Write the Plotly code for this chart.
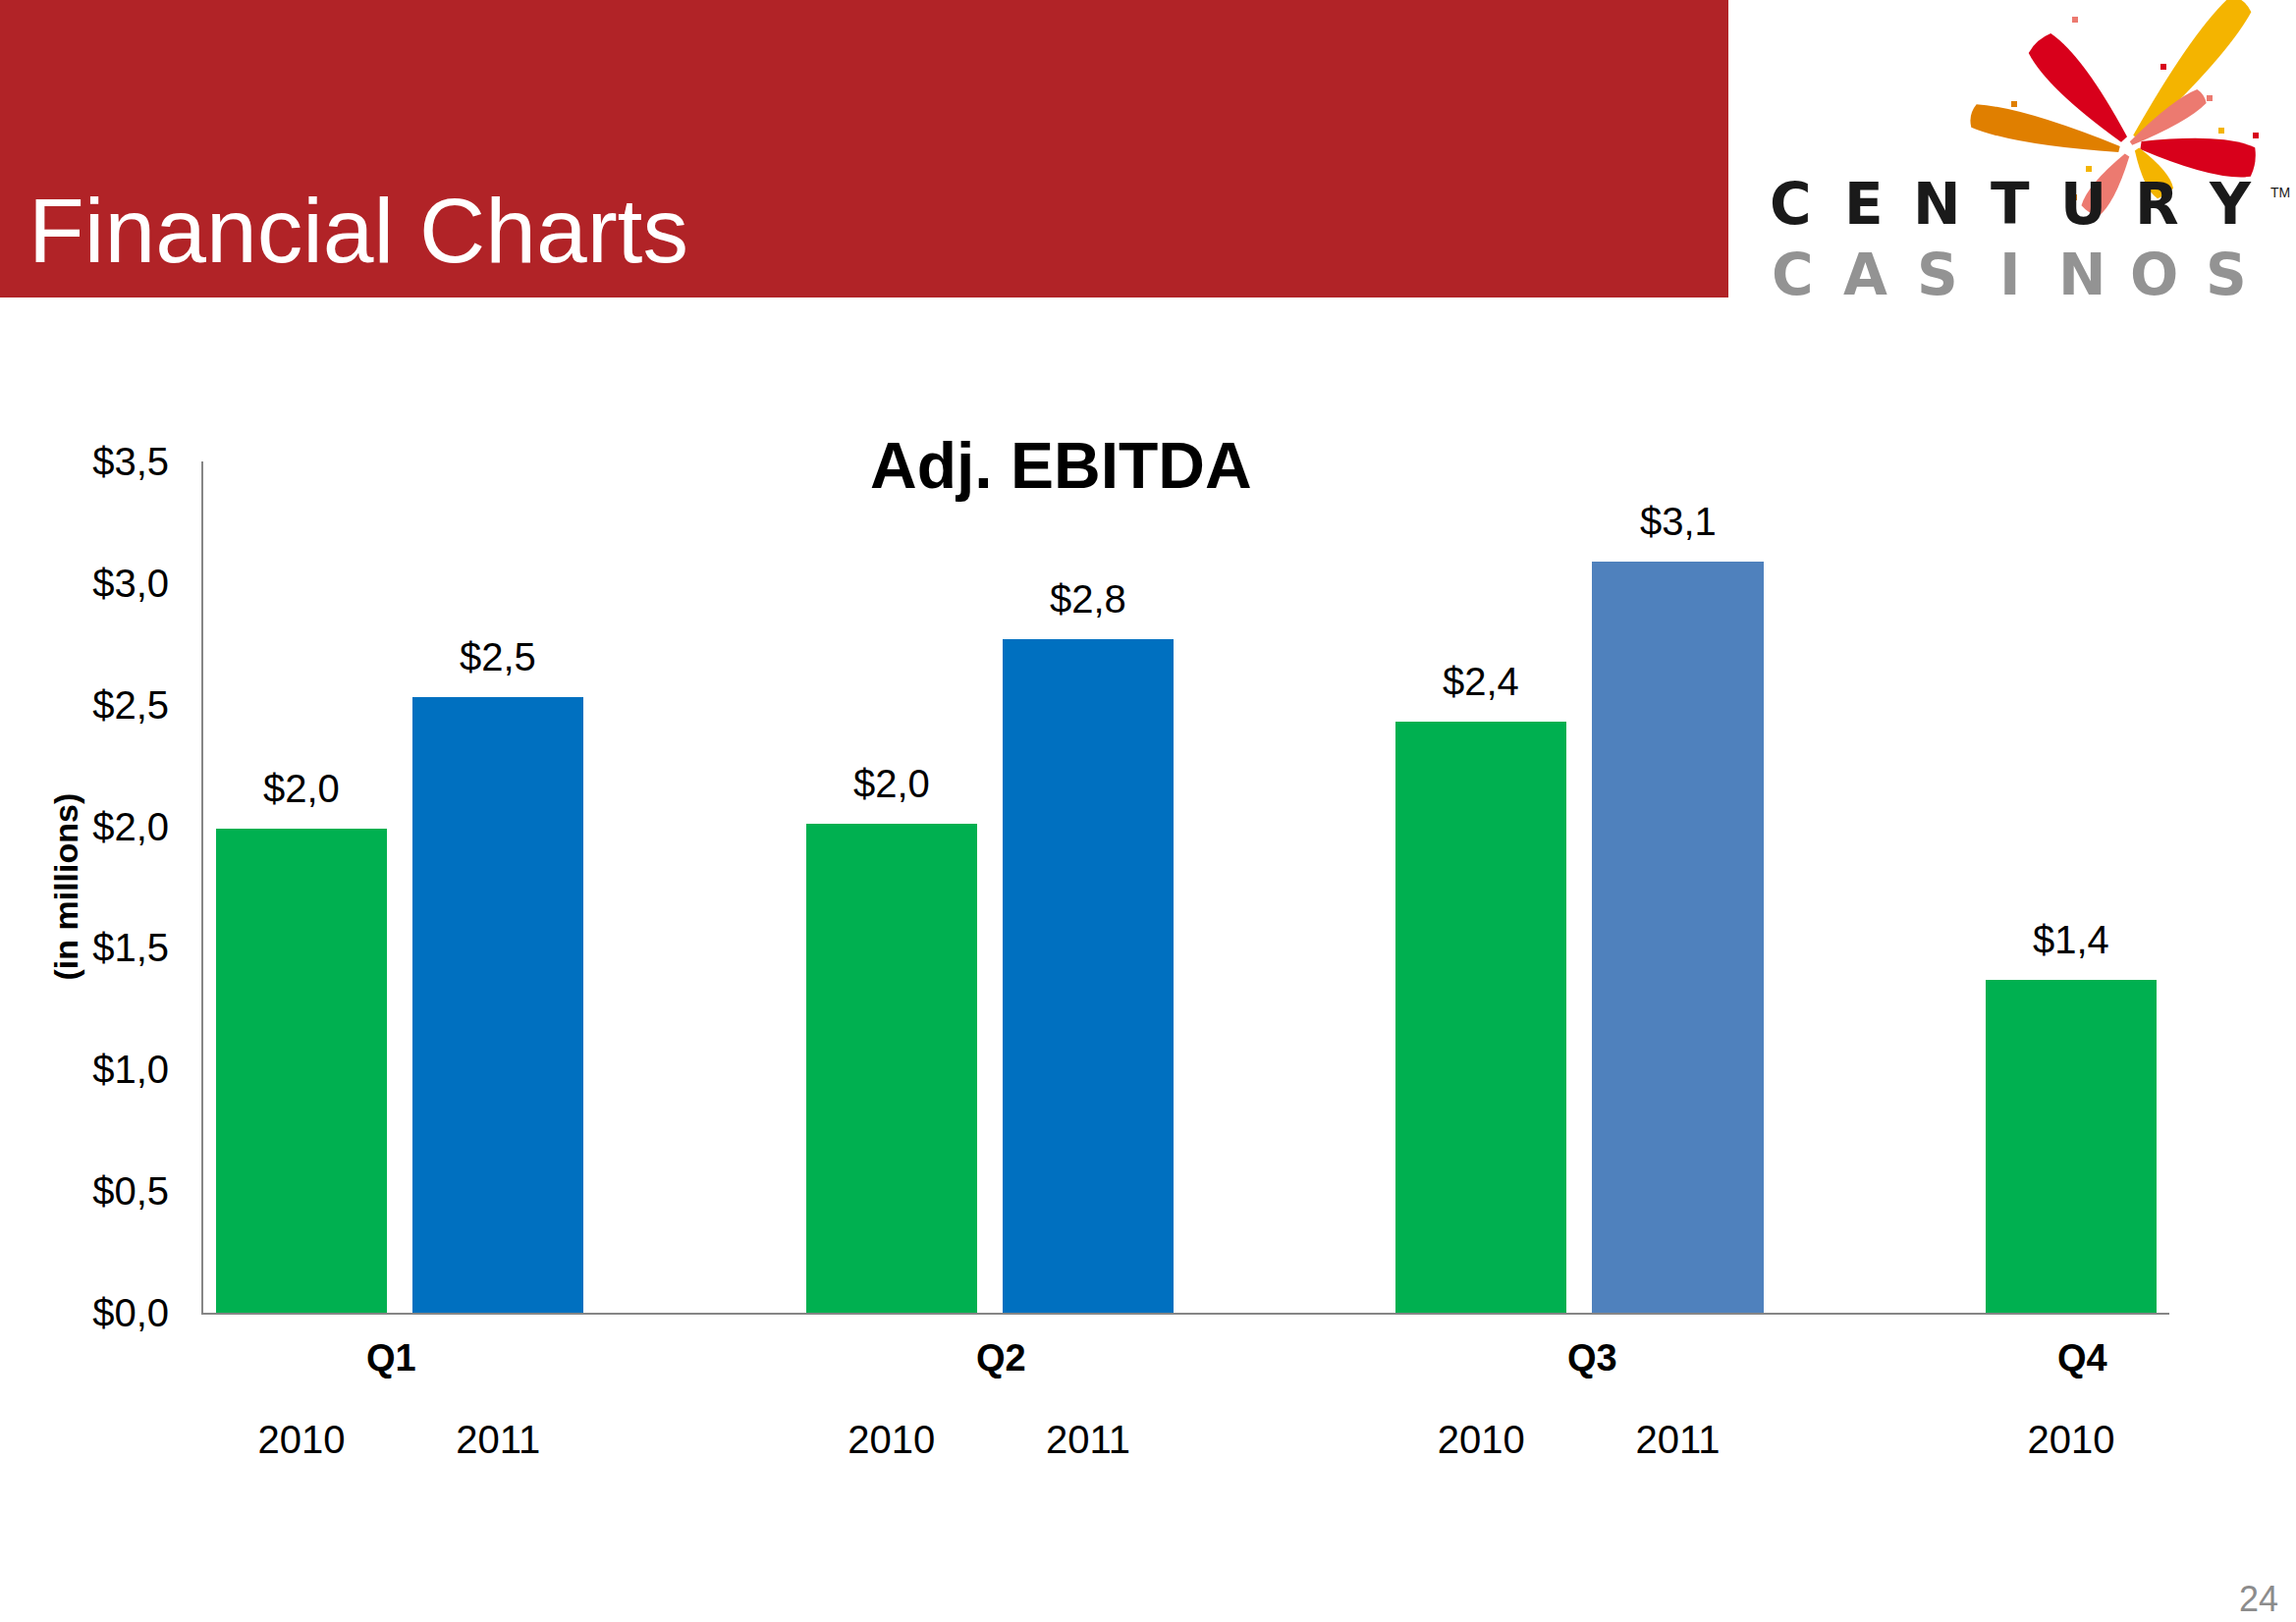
import plotly.graph_objects as go

# ---------------- data ----------------
quarters = ["Q1", "Q2", "Q3", "Q4"]
years = ["2010", "2011"]
ebitda_2010 = [1.99, 2.01, 2.43, 1.37]
ebitda_2011 = [2.53, 2.77, 3.09, None]
y_ticks = [0.0, 0.5, 1.0, 1.5, 2.0, 2.5, 3.0, 3.5]

# ---------------- styles ----------------
GREEN = "#00B050"
BLUE = "#0070C0"
STEEL = "#4F81BD"
AXIS = "#868686"
FONT = "Liberation Sans, Arial, sans-serif"
Q_LABEL_NUDGE = [-9, 12, 13, 12]   # small horizontal nudges of quarter labels (px)

W, H = 2338, 1652
L, R, T, B = 207, 2209, 470, 1337

def px(x):
    return (x - L) / (R - L)

def py(y):
    return (B - y) / (B - T)

# bar slots: each quarter occupies 3 slots (2010, 2011, gap)
xs, vals, cols, labels = [], [], [], []
for qi, q in enumerate(quarters):
    for yi, series in enumerate([ebitda_2010, ebitda_2011]):
        v = series[qi]
        if v is None:
            continue
        xs.append(qi * 3 + yi)
        vals.append(v)
        labels.append(years[yi])
        if yi == 0:
            cols.append(GREEN)
        else:
            cols.append(STEEL if q == "Q3" else BLUE)

fig = go.Figure()
fig.add_trace(go.Bar(
    x=xs, y=vals, width=0.87, marker=dict(color=cols, line=dict(width=0)),
    hoverinfo="skip", showlegend=False,
))

annotations = []
# value labels
for x, v in zip(xs, vals):
    annotations.append(dict(
        x=x, y=v, xref="x", yref="y", text=("$%.1f" % v).replace(".", ","),
        showarrow=False, yanchor="middle", yshift=41,
        font=dict(family=FONT, size=40, color="#000000"),
    ))
# quarter labels
for qi, q in enumerate(quarters):
    slots = [x for x in xs if x // 3 == qi]
    annotations.append(dict(
        x=sum(slots) / len(slots), y=0, xref="x", yref="y", text="<b>%s</b>" % q,
        showarrow=False, yanchor="middle", yshift=-46, xshift=Q_LABEL_NUDGE[qi],
        font=dict(family=FONT, size=38, color="#000000"),
    ))
# chart title
annotations.append(dict(
    x=px(1080), y=py(474), xref="paper", yref="paper", text="<b>Adj. EBITDA</b>",
    showarrow=False, xanchor="center", yanchor="middle",
    font=dict(family=FONT, size=66, color="#000000"),
))
# y axis title
annotations.append(dict(
    x=px(66), y=0.5, xref="paper", yref="paper", text="<b>(in millions)</b>",
    showarrow=False, textangle=-90, xanchor="center", yanchor="middle",
    font=dict(family=FONT, size=34, color="#000000"),
))
# header title
annotations.append(dict(
    x=px(27), y=py(235), xref="paper", yref="paper", text="Financial Charts",
    showarrow=False, xanchor="left", yanchor="middle",
    font=dict(family=FONT, size=93, color="#FFFFFF"),
))
# page number
annotations.append(dict(
    x=px(2300), y=py(1650), xref="paper", yref="paper", text="24",
    showarrow=False, xanchor="center", yanchor="bottom", borderpad=0,
    font=dict(family=FONT, size=36, color="#8C8C8C"),
))
# logo text (two stacked words, boxes kept apart)
for word, ypos, anchor, color, x0, x1 in [("CENTURY", 243, "bottom", "#1A1A1A", 1786, 2308),
                                          ("CASINOS", 245, "top", "#939393", 1789, 2304)]:
    pitch = (x1 - x0) / len(word)
    for i, ch in enumerate(word):
        annotations.append(dict(
            x=px(x0 + pitch * (i + 0.5)), y=py(ypos), xref="paper", yref="paper",
            text="<b>%s</b>" % ch, showarrow=False, xanchor="center", yanchor=anchor,
            borderpad=0,
            font=dict(family="DejaVu Sans, sans-serif", size=58, color=color),
        ))
annotations.append(dict(
    x=px(2322), y=py(196), xref="paper", yref="paper", text="TM",
    showarrow=False, xanchor="center", yanchor="middle",
    font=dict(family=FONT, size=14, color="#1A1A1A"),
))

shapes = []
# red header band
shapes.append(dict(type="rect", xref="paper", yref="paper",
                   x0=px(0), x1=px(1760), y0=py(303), y1=py(0),
                   fillcolor="#B12327", line=dict(width=0)))

# logo splash petals (decoration)
def petal(base, tip, w, color):
    bx, by = base
    tx, ty = tip
    dx, dy = tx - bx, ty - by
    ln = (dx * dx + dy * dy) ** 0.5
    nx, ny = -dy / ln, dx / ln
    def P(t, s):
        return (px(bx + dx * t + nx * w * s), py(by + dy * t + ny * w * s))
    pts = [P(0, 0.08), P(0.7, 0.5), P(1.0, 0.3), P(1.04, 0.0), P(1.0, -0.3), P(0.7, -0.5), P(0, -0.08)]
    path = "M %f,%f Q %f,%f %f,%f Q %f,%f %f,%f Q %f,%f %f,%f Z" % (
        pts[0][0], pts[0][1], pts[1][0], pts[1][1], pts[2][0], pts[2][1],
        pts[3][0], pts[3][1], pts[4][0], pts[4][1],
        pts[5][0], pts[5][1], pts[6][0], pts[6][1])
    return dict(type="path", xref="paper", yref="paper", path=path,
                fillcolor=color, line=dict(width=0))

shapes.append(petal((2175, 140), (2282, 4), 44, "#F4B400"))
shapes.append(petal((2163, 142), (2077, 44), 50, "#D8001B"))
shapes.append(petal((2158, 152), (2010, 118), 40, "#E07F00"))
shapes.append(petal((2170, 146), (2242, 98), 28, "#EC7A70"))
shapes.append(petal((2180, 148), (2294, 165), 50, "#D8001B"))
shapes.append(petal((2176, 152), (2205, 197), 32, "#F4B400"))
shapes.append(petal((2166, 158), (2128, 215), 34, "#EC7A70"))
for cx, cy, c in [(2113, 20, "#EC7A70"), (2203, 68, "#D8001B"), (2051, 106, "#E07F00"),
                  (2265, 27, "#F4B400"), (2250, 100, "#EC7A70"), (2297, 138, "#D8001B"),
                  (2262, 133, "#F4B400"), (2127, 172, "#F4B400"), (2112, 201, "#E07F00")]:
    shapes.append(dict(type="rect", xref="paper", yref="paper",
                       x0=px(cx - 3), x1=px(cx + 3), y0=py(cy + 3), y1=py(cy - 3),
                       fillcolor=c, line=dict(width=0)))

fig.update_layout(
    width=W, height=H, autosize=False,
    margin=dict(l=L, r=W - R, t=T, b=H - B, pad=0),
    paper_bgcolor="#FFFFFF", plot_bgcolor="#FFFFFF",
    font=dict(family=FONT, color="#000000"),
    annotations=annotations, shapes=shapes,
    bargap=0,
    xaxis=dict(
        range=[-0.5, 9.5], showgrid=False, zeroline=False,
        showline=True, linecolor=AXIS, linewidth=2,
        tickmode="array", tickvals=xs, ticktext=labels, ticks="",
        ticklabelstandoff=93,
        tickfont=dict(family=FONT, size=40, color="#000000"),
        fixedrange=True,
    ),
    yaxis=dict(
        range=[0, 3.5], showgrid=False, zeroline=False,
        showline=True, linecolor=AXIS, linewidth=2,
        tickmode="array", tickvals=y_ticks,
        ticktext=[("$%.1f" % t).replace(".", ",") for t in y_ticks],
        ticks="", ticklabelstandoff=25,
        tickfont=dict(family=FONT, size=40, color="#000000"),
        fixedrange=True,
    ),
)

fig.write_html("out.html", config={"displayModeBar": False},
               post_script="document.body.style.margin='0';document.body.style.overflow='hidden';")
